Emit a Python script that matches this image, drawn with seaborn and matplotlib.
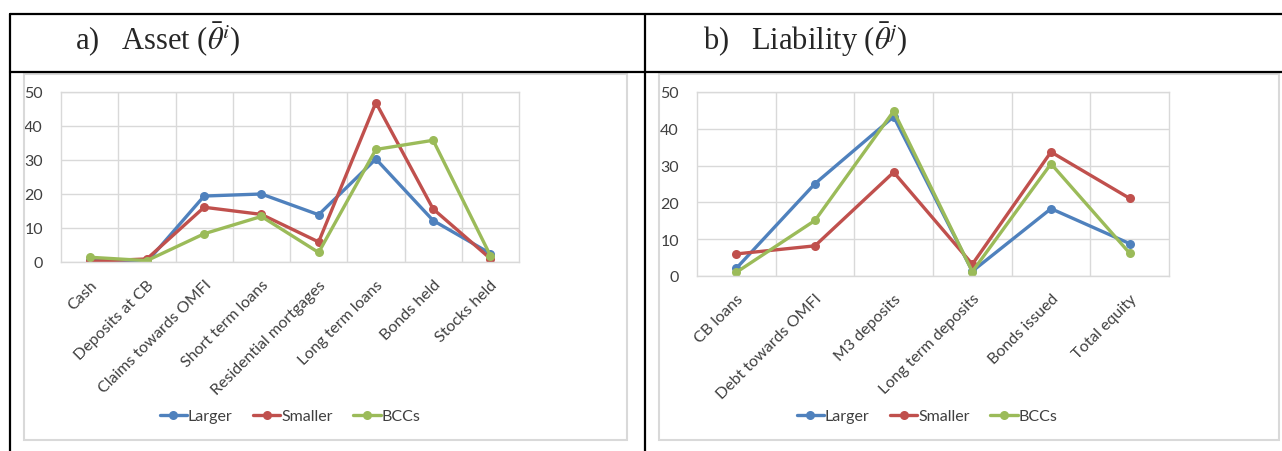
import numpy as np
import pandas as pd
import matplotlib
matplotlib.use("Agg")
import matplotlib.pyplot as plt
from matplotlib.lines import Line2D
from matplotlib.patches import Rectangle
import seaborn as sns

# asset side (theta bar i)
asset_cats = ["Cash", "Deposits at CB", "Claims towards OMFI", "Short term loans",
              "Residential mortgages", "Long term loans", "Bonds held", "Stocks held"]
asset_larger = [0.5, 0.0, 19.4, 20.0, 13.9, 30.3, 12.2, 2.5]
asset_smaller = [0.2, 0.9, 16.1, 14.0, 5.9, 46.9, 15.6, 1.0]
asset_bccs = [1.4, 0.4, 8.3, 13.4, 2.8, 33.1, 35.8, 1.9]

# liability side (theta bar j)
liab_cats = ["CB loans", "Debt towards OMFI", "M3 deposits", "Long term deposits",
             "Bonds issued", "Total equity"]
liab_larger = [2.1, 25.1, 43.3, 1.3, 18.3, 8.8]
liab_smaller = [6.0, 8.2, 28.2, 3.2, 33.7, 21.1]
liab_bccs = [1.0, 15.1, 44.8, 1.2, 30.5, 6.2]

groups = ["Larger", "Smaller", "BCCs"]
colors = {"Larger": "#4F81BD", "Smaller": "#C0504D", "BCCs": "#9BBB59"}

sns.set_style("white")
plt.rcParams["font.family"] = ["Lato", "DejaVu Sans"]
plt.rcParams["mathtext.fontset"] = "stix"

W, H = 1282, 452
fig = plt.figure(figsize=(W / 100, H / 100), dpi=100)


def long_df(cats, a, b, c):
    rows = []
    for g, vals in zip(groups, [a, b, c]):
        for cat, v in zip(cats, vals):
            rows.append({"cat": cat, "value": v, "group": g})
    return pd.DataFrame(rows)


def draw(ax, cats, a, b, c):
    df = long_df(cats, a, b, c)
    sns.lineplot(data=df, x="cat", y="value", hue="group", palette=colors,
                 marker="o", markersize=6.5, markeredgewidth=0, linewidth=2.4,
                 sort=False, ax=ax, legend=False)
    n = len(cats)
    ax.set_xlim(-0.5, n - 0.5)
    ax.set_ylim(0, 50)
    ax.set_yticks(range(0, 51, 10))
    ax.set_xticks(range(n))
    ax.set_xticks(np.arange(0.5, n - 0.5, 1), minor=True)
    ax.set_xticklabels(cats, rotation=45, ha="right", rotation_mode="anchor")
    ax.grid(True, axis="y", color="#D9D9D9", linewidth=1)
    ax.grid(True, axis="x", which="minor", color="#D9D9D9", linewidth=1)
    ax.set_axisbelow(True)
    for s in ax.spines.values():
        s.set_color("#D9D9D9")
        s.set_linewidth(1)
    ax.tick_params(axis="both", which="both", length=0, labelsize=11.5, colors="#404040")
    ax.tick_params(axis="y", pad=13)
    ax.tick_params(axis="x", pad=11)
    ax.set_xlabel("")
    ax.set_ylabel("")
    handles = [Line2D([0], [0], color=colors[g], lw=2.4, marker="o", markersize=6.5,
                      markeredgewidth=0) for g in groups]
    return handles


def px_axes(x0, y0, x1, y1):
    return fig.add_axes([x0 / W, 1 - y1 / H, (x1 - x0) / W, (y1 - y0) / H])


# chart frames
for (x0, y0, x1, y1) in [(24, 75, 627, 441), (659, 75, 1279, 441)]:
    fig.add_artist(Rectangle((x0 / W, 1 - y1 / H), (x1 - x0) / W, (y1 - y0) / H,
                             transform=fig.transFigure, fill=False,
                             edgecolor="#D9D9D9", linewidth=1.5))

legend_kw = dict(loc="center", bbox_transform=fig.transFigure, ncol=3, frameon=False,
                 fontsize=11.5, handlelength=1.7, handletextpad=0.05,
                 columnspacing=1.3, labelcolor="#404040")

ax1 = px_axes(61, 93, 519, 263)
h1 = draw(ax1, asset_cats, asset_larger, asset_smaller, asset_bccs)
ax1.legend(h1, groups, bbox_to_anchor=(290 / W, 1 - 417 / H), **legend_kw)

ax2 = px_axes(697, 93, 1169, 277)
h2 = draw(ax2, liab_cats, liab_larger, liab_smaller, liab_bccs)
ax2.legend(h2, groups, bbox_to_anchor=(927 / W, 1 - 417 / H), **legend_kw)


# table borders
def fig_line(xs, ys):
    fig.add_artist(Line2D([x / W for x in xs], [1 - y / H for y in ys],
                          transform=fig.transFigure, color="black", linewidth=1.6))


fig_line([10, 1282], [15, 15])
fig_line([10, 1282], [73, 73])
fig_line([10, 10], [15, 452])
fig_line([645, 645], [15, 452])

fig.text(75 / W, 1 - 50 / H, r"a)   Asset ($\bar{\theta}^{i}$)", fontsize=22,
         family="Liberation Serif", va="baseline", ha="left")
fig.text(703 / W, 1 - 50 / H, r"b)   Liability ($\bar{\theta}^{j}$)", fontsize=22,
         family="Liberation Serif", va="baseline", ha="left")

fig.savefig("out.png", dpi=100)
